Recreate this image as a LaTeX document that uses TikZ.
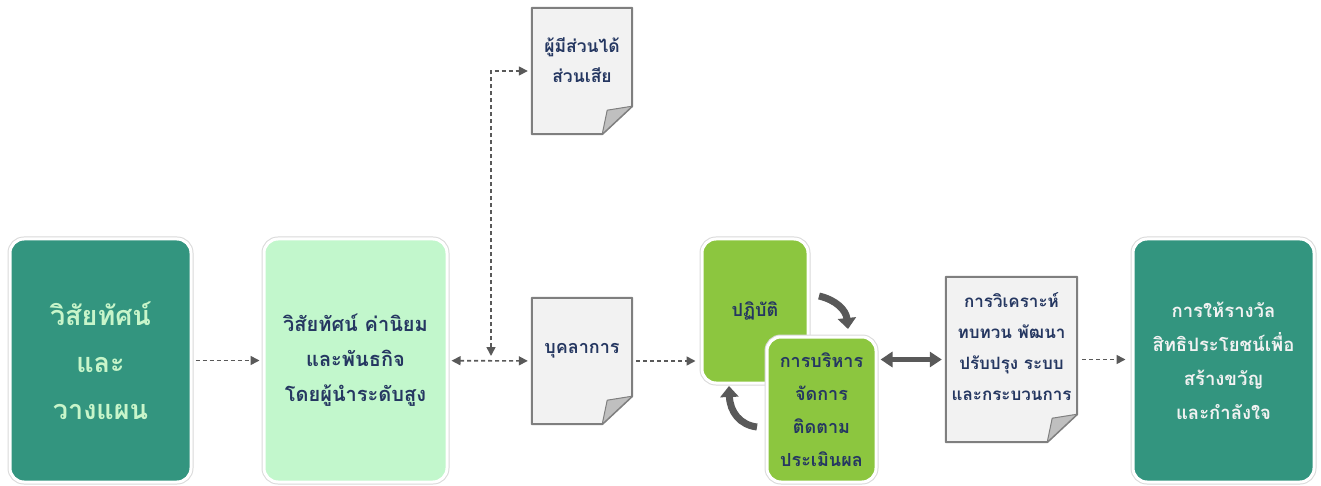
\documentclass[tikz,border=0pt]{standalone}
\usepackage{fontspec}
\newfontfamily\thai[Script=Thai]{Loma}
\usetikzlibrary{arrows.meta,backgrounds}
\tikzset{>=Stealth}
\definecolor{boxteal}{HTML}{33957F}
\definecolor{boxmint}{HTML}{C2F7CC}
\definecolor{boxleaf}{HTML}{8CC63F}
\definecolor{txtnavy}{HTML}{253761}
\definecolor{txtmint}{HTML}{C8F5CA}
\definecolor{pagefill}{HTML}{F2F2F2}
\definecolor{pageline}{HTML}{7F7F7F}
\definecolor{foldgray}{HTML}{BFBFBF}
\definecolor{linegray}{HTML}{595959}
\tikzset{
  card/.style={rounded corners=14pt,draw=white,line width=3pt,
    preaction={draw=black!15,line width=5pt},align=center,inner sep=0pt},
  page/.style={minimum width=100pt,minimum height=126pt,inner sep=0pt,align=center,
    text=txtnavy,font=\thai\bfseries\fontsize{17.5}{30}\selectfont},
  flow/.style={linegray,line width=1.6pt,dash pattern=on 4pt off 3pt},
  tip/.style={-{Triangle[length=9pt,width=9pt]}},
  tips/.style={{Triangle[length=9pt,width=9pt]}-{Triangle[length=9pt,width=9pt]}},
  cyc/.style={linegray,line width=7pt,-{Triangle[length=11pt,width=18pt]}}
}
\newcommand*{\pg}[1]{%
  \fill[pagefill,draw=pageline,line width=2pt,line join=round] (#1.north west) -- (#1.north east)
    -- ([yshift=28pt]#1.south east) -- ([xshift=-30pt]#1.south east) -- (#1.south west) -- cycle;
  \fill[foldgray,draw=pageline,line width=1pt,line join=round] ([yshift=28pt]#1.south east)
    -- ([xshift=-25pt,yshift=24pt]#1.south east) -- ([xshift=-30pt]#1.south east) -- cycle;}
\begin{document}
\begin{tikzpicture}[x=1pt,y=-1pt]
\useasboundingbox (0,0) rectangle (1321,486);
\node[card,fill=boxteal,text=txtmint,minimum width=181pt,minimum height=243pt,
  font=\thai\bfseries\fontsize{27}{47}\selectfont] (vision) at (100.5,360.5) {วิสัยทัศน์\\และ\\วางแผน};
\node[card,fill=boxmint,text=txtnavy,minimum width=183pt,minimum height=243pt,
  font=\thai\bfseries\fontsize{20}{35}\selectfont] (mission) at (355.5,360.5) {วิสัยทัศน์ ค่านิยม\\และพันธกิจ\\โดยผู้นำระดับสูง};
\node[page,text depth=22pt] (stake) at (582,71) {ผู้มีส่วนได้\\ส่วนเสีย};
\node[page,text depth=26pt,font=\thai\bfseries\fontsize{18}{30}\selectfont] (staff) at (582,361) {บุคลาการ};
\node[page,minimum width=131pt,minimum height=165pt,text depth=26pt,
  font=\thai\bfseries\fontsize{17}{31}\selectfont] (review) at (1011.5,359.5) {การวิเคราะห์\\ทบทวน พัฒนา\\ปรับปรุง ระบบ\\และกระบวนการ};
\begin{scope}[on background layer]
\pg{stake}
\pg{staff}
\pg{review}
\end{scope}
\node[card,fill=boxleaf,text=txtnavy,minimum width=106pt,minimum height=144pt,
  font=\thai\bfseries\fontsize{18}{33}\selectfont] (practice) at (755,311) {ปฏิบัติ};
\node[card,fill=boxleaf,text=txtnavy,minimum width=109pt,minimum height=145pt,
  font=\thai\bfseries\fontsize{18}{33}\selectfont] (manage) at (821.5,409.5) {การบริหาร\\จัดการ\\ติดตาม\\ประเมินผล};
\node[card,fill=boxteal,text=pagefill,minimum width=181pt,minimum height=243pt,
  font=\thai\bfseries\fontsize{18.5}{34}\selectfont] (reward) at (1223.5,360.5) {การให้รางวัล\\สิทธิประโยชน์เพื่อ\\สร้างขวัญ\\และกำลังใจ};
\coordinate (junc) at (491,356);
\draw[flow,tip,shorten <=3pt,shorten >=3pt] (vision) -- (mission);
\draw[flow,tips,shorten <=3pt,shorten >=4pt] (mission) -- (staff);
\draw[flow,tips,shorten >=4pt] (junc) |- (stake.west);
\draw[flow,tip,shorten <=4pt,shorten >=5pt] (staff.east) -- (staff.east -| practice.west);
\draw[linegray,line width=5pt,{Triangle[length=12pt,width=15pt]}-{Triangle[length=12pt,width=15pt]},shorten <=3pt,shorten >=4pt] (manage.east |- review.west) -- (review.west);
\draw[flow,tip,shorten <=5pt,shorten >=6pt] (review.east) -- (review.east -| reward.west);
\draw[cyc] (819,296) .. controls (836,300) and (846,310) .. (848,329);
\draw[cyc] (757,427) .. controls (740,425) and (730,412) .. (729,386);
\end{tikzpicture}
\end{document}
